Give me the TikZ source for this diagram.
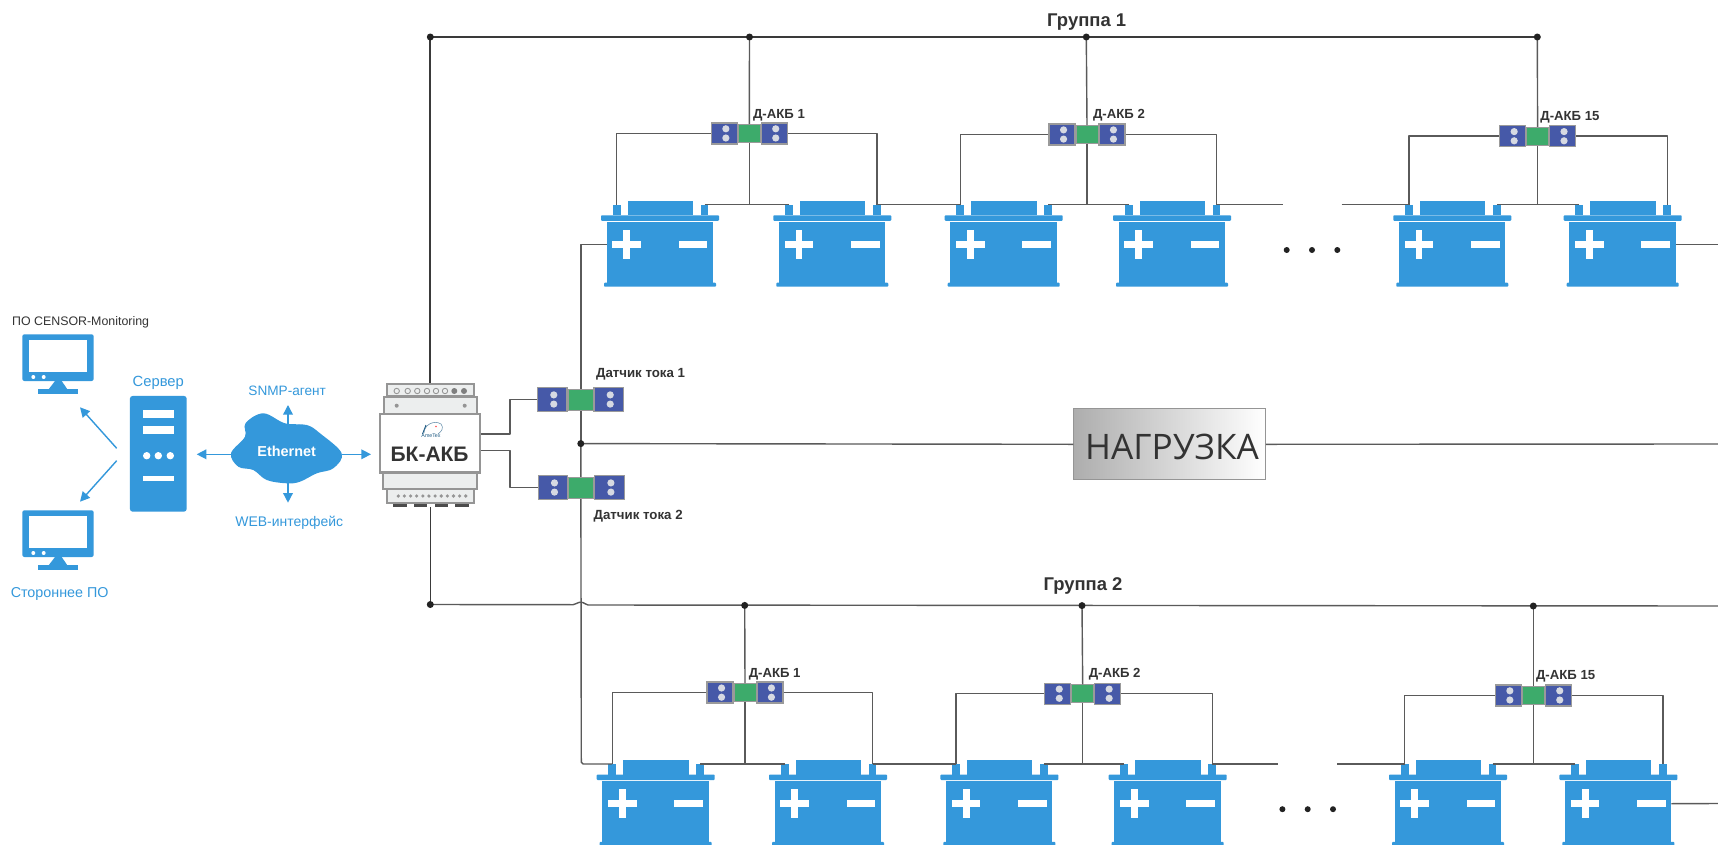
\documentclass[tikz,border=0pt]{standalone}
\usepackage{fontspec}
\setmainfont{Liberation Sans}
\newfontfamily\loadfont{Open Sans}
\usetikzlibrary{arrows.meta,calc}
\definecolor{bluei}{HTML}{3498DB}
\definecolor{wirec}{HTML}{5A5A5A}
\definecolor{busc}{HTML}{3A3A3A}
\definecolor{sblue}{HTML}{4659A8}
\definecolor{sgreen}{HTML}{3DAB6B}
\definecolor{sedge}{HTML}{9A9A9A}
\definecolor{dotc}{HTML}{222222}
\definecolor{devedge}{HTML}{959595}
\definecolor{devfill}{HTML}{ECEEEE}
\definecolor{sdot}{HTML}{D6D9E2}
\definecolor{txtc}{HTML}{333333}
\newcommand{\fsz}[1]{\fontsize{#1}{#1}\selectfont}
\tikzset{
  x=0.02cm,y=-0.02cm,
  wire/.style={draw=wirec,line width=0.8pt,line join=round},
  bus/.style={draw=busc,line width=1.1pt},
  flow/.style={draw=bluei,line width=0.8pt,-{Triangle[length=5.5pt,width=5.5pt]}},
  lbl/.style={inner sep=0pt,font=\bfseries\fsz{7.5},text=txtc},
  cur/.style={inner sep=0pt,font=\bfseries\fsz{7.55},text=txtc},
  grp/.style={inner sep=0pt,font=\bfseries\fsz{10.5},text=txtc},
  blu/.style={inner sep=0pt,text=bluei},
  sblk/.style={draw=sedge,line width=0.7pt,fill=sblue,inner sep=0pt,minimum width=0.52cm,minimum height=0.42cm},
  sgrn/.style={draw=sedge,line width=0.4pt,fill=sgreen,inner sep=0pt,minimum width=0.44cm,minimum height=0.36cm},
  junction/.style={circle,fill=dotc,inner sep=0pt,minimum size=0.14cm},
  module/.style={draw=devedge,line width=1.3pt,fill=devfill},
}
% sensor: name, centre x, centre y, green width, height
\newcommand{\sensor}[5]{%
  \node[sgrn,minimum width=#4cm,minimum height=#5cm*0.86] (#1) at (#2,#3) {};
  \node[sblk,minimum width=#4cm*1.18,minimum height=#5cm,anchor=east] (#1l) at (#1.west) {};
  \node[sblk,minimum width=#4cm*1.18,minimum height=#5cm,anchor=west] (#1r) at (#1.east) {};
  \foreach \sd in {l,r}{
    \fill[sdot] ($(#1\sd)+(1.5,-4.6)$) circle (3.6);
    \fill[sdot] ($(#1\sd)+(1.5,4.6)$) circle (3.6);
  }
}
% battery: name, ledge left x, top y
\newcommand{\battery}[3]{%
  \begin{scope}[shift={(#2,#3)}]
    \fill[bluei] (11.7,4) rectangle (19.7,14.3);
    \fill[bluei] (99.7,4) rectangle (107.3,14.3);
    \fill[bluei] (26.7,0) rectangle (92,14.3);
    \fill[bluei,rounded corners=0.5pt] (0,14.3) rectangle (118,19.8);
    \fill[bluei] (5.7,20.8) rectangle (112,82);
    \fill[bluei,rounded corners=0.5pt] (3,81.7) rectangle (115,85.7);
    \fill[white] (11.4,40) rectangle (40,46.7);
    \fill[white] (22.4,29) rectangle (29.1,57.6);
    \fill[white] (77.7,40) rectangle (106.3,46.7);
    \coordinate (#1lt) at (15.5,3.7);
    \coordinate (#1rt) at (103.5,3.7);
    \coordinate (#1L) at (5.7,43.5);
    \coordinate (#1R) at (112,43.5);
  \end{scope}
}
% one battery group, prefix #1
\newcommand{\group}[1]{%
  \battery{#1a}{601}{201}
  \battery{#1b}{773.3}{201}
  \battery{#1c}{944.7}{201}
  \battery{#1d}{1113}{201}
  \battery{#1e}{1393.3}{201}
  \battery{#1f}{1563.7}{201}
  % links between batteries
  \draw[wire] (#1art) -- (#1blt);
  \draw[wire] (#1brt) -- (#1clt);
  \draw[wire] (#1crt) -- (#1dlt);
  \coordinate (#1gapa) at (1282.7,204.7);
  \coordinate (#1gapb) at (1341.7,204.7);
  \draw[wire] (#1drt) -- (#1gapa);
  \draw[wire] (#1gapb) -- (#1elt);
  \draw[wire] (#1ert) -- (#1flt);
  % sensors
  \sensor{#1s}{749.3}{133.4}{0.44}{0.42}
  \sensor{#1t}{1087}{134.5}{0.44}{0.42}
  \sensor{#1u}{1537.6}{136.2}{0.44}{0.42}
  \draw[wire] (#1sl.west) -| (#1alt);
  \draw[wire] (#1sr.east) -| (#1brt);
  \draw[wire] (#1tl.west) -| (#1clt);
  \draw[wire] (#1tr.east) -| (#1drt);
  \draw[wire] (#1ul.west) -| (#1elt);
  \draw[wire] (#1ur.east) -| (#1frt);
  \draw[wire] (#1s.south) -- (#1s.south |- #1art);
  \draw[wire] (#1t.south) -- (#1t.south |- #1art);
  \draw[wire] (#1u.south) -- (#1u.south |- #1art);
  % labels
  \node[lbl,anchor=west] (#1labs) at (752.7,115) {Д-АКБ 1};
  \node[lbl,anchor=west] (#1labt) at (1092.7,115.2) {Д-АКБ 2};
  \node[lbl,anchor=west] (#1labu) at (1540,117.4) {Д-АКБ 15};
  % ellipsis
  \foreach \ex in {1286.7,1312,1337.3}{\fill[dotc] (\ex,250) circle (3);}
}
\newcommand{\monitor}[1]{%
  \begin{scope}[shift={(0,#1)}]
    \fill[bluei,rounded corners=1.2pt] (22.3,334.3) rectangle (93.7,381);
    \fill[white] (29,340.3) rectangle (87,371.7);
    \fill[white] (33.3,377) circle (2);
    \fill[white] (43.7,377) circle (2);
    \fill[bluei] (55,381) -- (61.7,381) -- (67.5,389.5) -- (48.5,389.5) -- cycle;
    \fill[bluei] (38,389.3) rectangle (78,393.7);
  \end{scope}
}
\begin{document}
\begin{tikzpicture}
\useasboundingbox (0,0) rectangle (1718,845);
\clip (0,0) rectangle (1718,845);
\fill[white] (0,0) rectangle (1718,845);

% --- left: PCs, server, cloud ---
\monitor{0}
\monitor{176}
\node[inner sep=0pt,font=\fsz{7.05},text=txtc,anchor=west] (po) at (11.8,322.5) {ПО CENSOR-Monitoring};
\node[blu,font=\fsz{8.15},anchor=west] (third) at (10.4,593.7) {Стороннее ПО};
\node[blu,font=\fsz{8.4}] (srvl) at (158.3,382.7) {Сервер};
\node[fill=bluei,rounded corners=1.5pt,inner sep=0pt,minimum width=1.134cm,minimum height=2.314cm] (srv) at (158.3,453.8) {};
\fill[white] (143,410.3) rectangle (174,418.3);
\fill[white] (143,426.3) rectangle (174,434.3);
\foreach \cx in {146.7,158.3,170.3}{\fill[white] (\cx,455.7) circle (3.7);}
\fill[white] (143,476.2) rectangle (174,480.7);

\fill[bluei] plot[smooth cycle,tension=0.6] coordinates {(231,453.3) (245,436.7) (245.5,423.3) (263.3,413.3) (285,423.3) (306.7,425) (320,433.3) (341.7,453.3) (333.3,468.3) (316.7,473.3) (300,481.7) (286.7,483.3) (266.7,480) (253.3,470) (238.3,466.7)};
\node[inner sep=0pt,font=\bfseries\fsz{8.2},text=white] (eth) at (286.7,451) {Ethernet};
\node[blu,font=\fsz{7.75}] (snmp) at (287.2,391.3) {SNMP-агент};
\node[blu,font=\fsz{7.95}] (web) at (289.3,523) {WEB-интерфейс};
\coordinate (cT) at (288,425);
\coordinate (cB) at (288,482.7);
\coordinate (cL) at (231.7,454.3);
\coordinate (cR) at (341.7,454.3);
\coordinate (aT) at (288,405);
\coordinate (aB) at (288,502.7);
\coordinate (aL) at (196.7,454.3);
\coordinate (aR) at (371,454.3);
\draw[flow] (cT) -- (aT);
\draw[flow] (cB) -- (aB);
\draw[flow] (cL) -- (aL);
\draw[flow] (cR) -- (aR);
\coordinate (d1s) at (116.7,448.3);
\coordinate (d1e) at (80,407.3);
\coordinate (d2s) at (116.7,460.7);
\coordinate (d2e) at (80,501.7);
\draw[flow] (d1s) -- (d1e);
\draw[flow] (d2s) -- (d2e);

% --- wiring ---
\coordinate (b1) at (430.3,37);
\coordinate (e1) at (1537.3,37);
\coordinate (g1a) at (749.5,37);
\coordinate (g1b) at (1086.3,37);
\coordinate (b2) at (430.3,604.5);
\coordinate (e2) at (1718,606);
\coordinate (g2a) at (744.7,605.4);
\coordinate (g2b) at (1082,605.6);
\coordinate (g2c) at (1533.3,606);
\coordinate (mjn) at (580.8,443.6);

% --- group 1 ---
\group{A}
% --- group 2 ---
\begin{scope}[shift={(-4.3,559.2)}]
  \group{B}
\end{scope}

% buses
\draw[bus] (b1) -- (e1);
\draw[wire] (b2) -- (573,604.7) .. controls (576,604.7) and (577,602.2) .. (580.8,602.2) .. controls (584.5,602.2) and (585.5,605) .. (588,605) -- (e2);
\draw[wire] (g1a) -- (As.north);
\draw[wire] (g1b) -- (At.north);
\draw[wire] (e1) -- (Au.north);
\draw[wire] (g2a) -- (Bs.north);
\draw[wire] (g2b) -- (Bt.north);
\draw[wire] (g2c) -- (Bu.north);

\node[grp] (g1) at (1086.7,22) {Группа 1};
\node[grp] (g2) at (1083,586) {Группа 2};

% power line
\draw[wire] (AaL) -| (mjn);
\coordinate (corner) at (581.3,764);
\draw[wire,rounded corners=1pt] (mjn) -- (corner) -- (Balt |- corner);
\draw[wire] (BfR) -- (1718,803.5);
\draw[wire] (AfR) -- (1718,244.5);

% load
\node[draw=devedge,line width=0.7pt,left color=black!32,right color=white,inner sep=0pt,minimum width=3.83cm,minimum height=1.42cm] (load) at (1169.6,444.3) {};
\node[inner sep=0pt,font=\loadfont\fsz{20},text=txtc] (loadt) at (1172,447) {НАГРУЗКА};
\draw[wire] (mjn) -- (load.west);
\draw[wire] (load.east) -- (1718,444);

% current sensors
\sensor{cs}{580.5}{399.5}{0.5}{0.49}
\sensor{ct}{581.2}{487.5}{0.5}{0.49}
\node[cur,anchor=west] (cslab) at (595.7,374.3) {Датчик тока 1};
\node[cur,anchor=west] (ctlab) at (593.3,515.7) {Датчик тока 2};

% device
\draw[bus] (b1) -- (430.3,384);
\draw[bus,line width=0.9pt] (430.3,507) -- (b2);
\draw[module] (387.3,384) rectangle (474,395.7);
\draw[module] (383.7,396.7) rectangle (477.3,414);
\draw[module] (383.3,472.3) rectangle (477.3,489.3);
\draw[module] (387.3,489.3) rectangle (473.7,502.7);
\node[draw=devedge,line width=1.5pt,fill=white,inner sep=0pt,minimum width=2cm,minimum height=1.166cm] (bk) at (430.1,443.2) {};
\foreach \cx in {396.7,407.7,417.3,427,436,445}{\draw[devedge,line width=0.5pt] (\cx,391) circle (2.7);}
\foreach \cx in {454.3,464}{\fill[devedge!85!black] (\cx,391) circle (3);}
\foreach \cx in {396.7,464.7}{\fill[devedge] (\cx,405.7) circle (2);}
\foreach \i in {0,...,11}{\fill[devedge] ({398.3+\i*6.13},496) circle (1.8);}
\foreach \fa/\fb in {392.7/406.7,413.7/427.3,435/448.3,455.3/469}{\fill[black!70] (\fa,504) rectangle (\fb,506.7);}
\node[inner sep=0pt,font=\bfseries\fsz{11.95},text=txtc] (bkt) at (429.6,454.6) {БК-АКБ};
\draw[bluei!60!black!70,line width=0.3pt] (424,433) .. controls (424,425) and (434,419.5) .. (441,424) .. controls (444,428) and (442,431) .. (438,434);
\draw[bluei!60!black,line width=0.5pt] (426,425) -- (422.5,434);
\fill[red!70] (436,426.5) circle (0.8);
\node[inner sep=0pt,font=\fsz{3},text=bluei!60!black] (logo) at (431,435.3) {AmeTex};
\coordinate (bkr1) at (bk.east |- 0,434);
\coordinate (bkr2) at (bk.east |- 0,450.3);
\coordinate (elb) at (510,434);
\coordinate (elc) at (510,450.3);
\draw[wire] (bkr1) -- (elb) |- (csl.west);
\draw[wire] (bkr2) -- (elc) |- (ctl.west);
\fill[dotc] (b1) circle (3.5);
\node[junction] at (g1a) {};
\node[junction] at (g1b) {};
\node[junction] at (e1) {};
\node[junction] at (b2) {};
\node[junction] at (g2a) {};
\node[junction] at (g2b) {};
\node[junction] at (g2c) {};
\node[junction] at (mjn) {};
\end{tikzpicture}
\end{document}
